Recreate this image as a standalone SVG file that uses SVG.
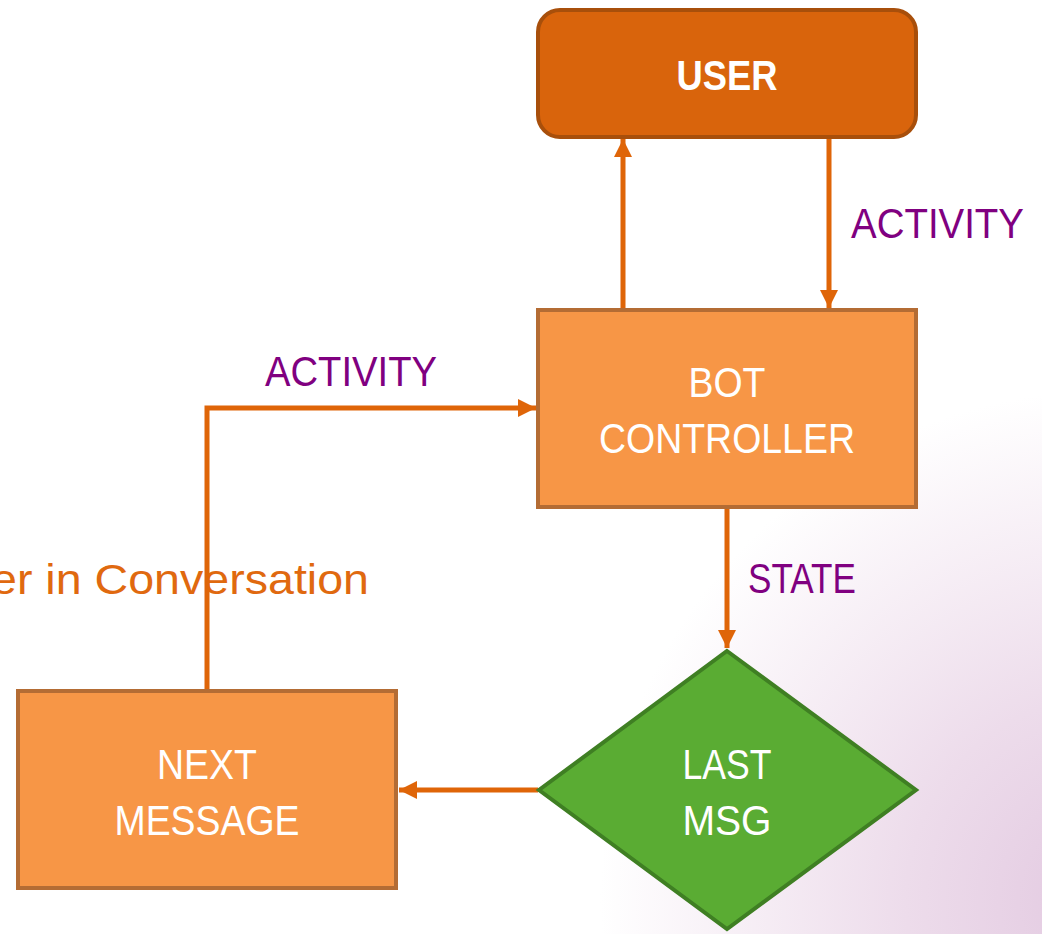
<svg xmlns="http://www.w3.org/2000/svg" width="1042" height="934" viewBox="0 0 1042 934">
<defs>
<radialGradient id="bg" cx="1110" cy="900" r="680" gradientUnits="userSpaceOnUse">
<stop offset="0" stop-color="#E2C8E0"/>
<stop offset="0.3" stop-color="#EDDCEB"/>
<stop offset="0.75" stop-color="#FFFFFF"/>
</radialGradient>
<marker id="arr" markerUnits="userSpaceOnUse" viewBox="0 0 18 18" markerWidth="18" markerHeight="18" refX="18" refY="9" orient="auto">
<path d="M0,0 L18,9 L0,18 z" fill="#DF6508"/>
</marker>
<style>
.lbl{font-family:"Liberation Sans",Arial,sans-serif;font-size:42px;fill:#800080}
.wt{font-family:"Liberation Sans",Arial,sans-serif;font-size:42px;fill:#FFFFFF;text-anchor:middle}
.box{fill:#F79646;stroke:#B46C34;stroke-width:4}
.conn{fill:none;stroke:#DF6508;stroke-width:5;marker-end:url(#arr)}
</style>
</defs>
<rect width="1042" height="934" fill="url(#bg)"/>
<text x="369" y="594" text-anchor="end" textLength="378" lengthAdjust="spacingAndGlyphs" style="font-family:'Liberation Sans',Arial,sans-serif;font-size:43px;fill:#E0690F">er in Conversation</text>
<g id="connectors">
<path class="conn" d="M623,309 L623,139"/>
<path class="conn" d="M829,139 L829,308"/>
<path class="conn" d="M207,690 L207,408 L536,408"/>
<path class="conn" d="M727,508 L727,648"/>
<path class="conn" d="M538,790 L399,790"/>
</g>
<g id="user">
<rect x="538" y="10" width="378" height="127" rx="22" fill="#D9640C" stroke="#A84F0B" stroke-width="4"/>
<text class="wt" x="727" y="90" textLength="101" lengthAdjust="spacingAndGlyphs" style="font-weight:bold">USER</text>
</g>
<g id="bot">
<rect class="box" x="538" y="310" width="378" height="197"/>
<text class="wt" x="727" y="397" textLength="77" lengthAdjust="spacingAndGlyphs">BOT</text>
<text class="wt" x="727" y="453" textLength="256" lengthAdjust="spacingAndGlyphs">CONTROLLER</text>
</g>
<g id="next">
<rect class="box" x="18" y="691" width="378" height="197"/>
<text class="wt" x="207" y="779" textLength="100" lengthAdjust="spacingAndGlyphs">NEXT</text>
<text class="wt" x="207" y="835" textLength="185" lengthAdjust="spacingAndGlyphs">MESSAGE</text>
</g>
<g id="last">
<polygon points="727,651 916,790 727,929 539,790" fill="#5AAC33" stroke="#3F7F23" stroke-width="4"/>
<text class="wt" x="727" y="779" textLength="89" lengthAdjust="spacingAndGlyphs">LAST</text>
<text class="wt" x="727" y="835" textLength="89" lengthAdjust="spacingAndGlyphs">MSG</text>
</g>
<g id="labels">
<text class="lbl" x="851" y="238" textLength="173" lengthAdjust="spacingAndGlyphs">ACTIVITY</text>
<text class="lbl" x="265" y="386" textLength="172" lengthAdjust="spacingAndGlyphs">ACTIVITY</text>
<text class="lbl" x="748" y="593" textLength="108" lengthAdjust="spacingAndGlyphs">STATE</text>
</g>
</svg>
